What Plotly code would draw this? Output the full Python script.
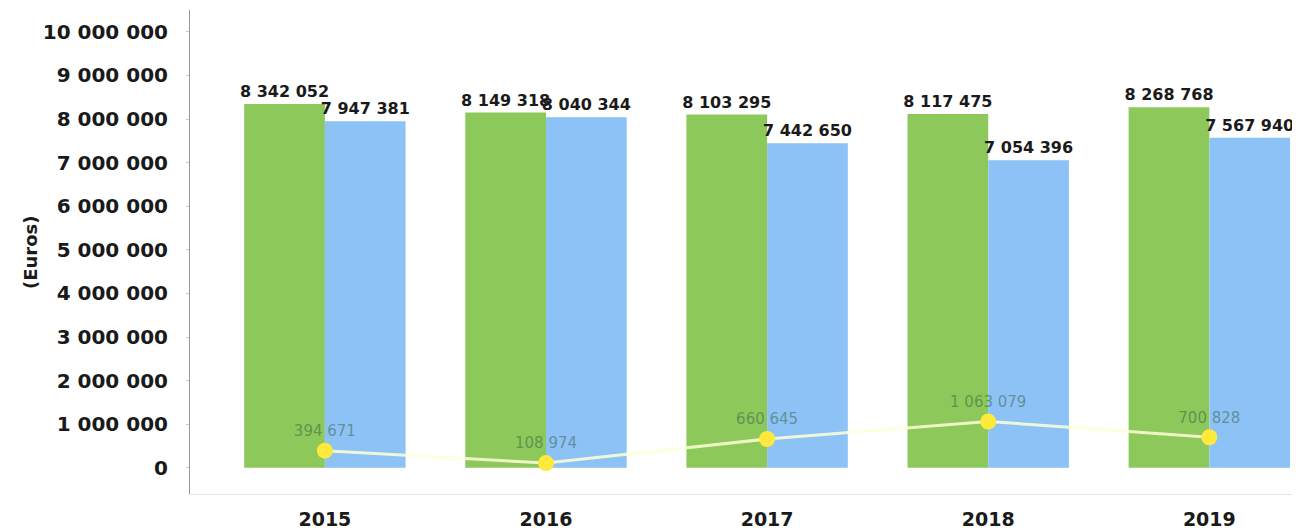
import plotly.graph_objects as go

years = ["2015", "2016", "2017", "2018", "2019"]
green_vals = [8342052, 8149318, 8103295, 8117475, 8268768]
blue_vals = [7947381, 8040344, 7442650, 7054396, 7567940]
diff_vals = [394671, 108974, 660645, 1063079, 700828]
y_ticks = [0, 1000000, 2000000, 3000000, 4000000, 5000000,
           6000000, 7000000, 8000000, 9000000, 10000000]
y_tick_text = ["0", "1 000 000", "2 000 000", "3 000 000", "4 000 000", "5 000 000",
               "6 000 000", "7 000 000", "8 000 000", "9 000 000", "10 000 000"]

def fmt(v):
    return f"{v:,}".replace(",", " ")

FONT = "DejaVu Sans"
L, R, T, B = 182, 8, 2, 45

fig = go.Figure()
fig.add_trace(go.Bar(
    x=years, y=green_vals, marker=dict(color="#8cc85a", line=dict(width=0)),
    text=[fmt(v) for v in green_vals], textposition="outside", cliponaxis=False,
    constraintext="none",
    textfont=dict(family=FONT, size=16, color="#1a1a1a", weight="bold"),
    name="green"))
fig.add_trace(go.Bar(
    x=years, y=blue_vals, marker=dict(color="#8cc2f6", line=dict(width=0)),
    text=[fmt(v) for v in blue_vals], textposition="outside", cliponaxis=False,
    constraintext="none",
    textfont=dict(family=FONT, size=16, color="#1a1a1a", weight="bold"),
    name="blue"))
fig.add_trace(go.Scatter(
    x=years, y=diff_vals, mode="lines+markers+text",
    line=dict(color="rgba(255,255,215,0.85)", width=3),
    marker=dict(color="#ffe93a", size=16),
    text=[fmt(v) for v in diff_vals], textposition="top center",
    textfont=dict(family=FONT, size=15, color="rgba(60,100,70,0.55)"),
    name="diff"))

fig.update_layout(
    width=1300, height=531,
    margin=dict(l=L, r=R, t=T, b=B),
    paper_bgcolor="white", plot_bgcolor="white",
    barmode="group", bargap=0.27, bargroupgap=0,
    showlegend=False,
    font=dict(family=FONT, size=14, color="#1a1a1a"),
    annotations=[dict(
        text="(Euros)", xref="paper", yref="paper",
        x=(22 - L) / (1300 - L - R), y=0.5, textangle=-90, showarrow=False,
        xanchor="center", yanchor="middle",
        font=dict(family=FONT, size=18, weight="bold", color="#1a1a1a"))],
)
fig.update_xaxes(
    type="category", range=[-0.61, 4.41], automargin=False,
    showgrid=False, showline=True, linecolor="#e4e4e4", linewidth=1,
    ticks="", ticklabelstandoff=8,
    tickfont=dict(size=19, weight="bold", color="#1a1a1a"),
)
fig.update_yaxes(
    range=[-600000, 10500000], tickvals=y_ticks, ticktext=y_tick_text,
    automargin=False,
    showgrid=False, zeroline=False, showline=True, linecolor="#9a9a9a", linewidth=1,
    ticks="outside", ticklen=3, tickcolor="#cccccc", ticklabelstandoff=14,
    tickfont=dict(size=20, weight="bold", color="#1a1a1a"),
)

fig.write_html("out.html")
